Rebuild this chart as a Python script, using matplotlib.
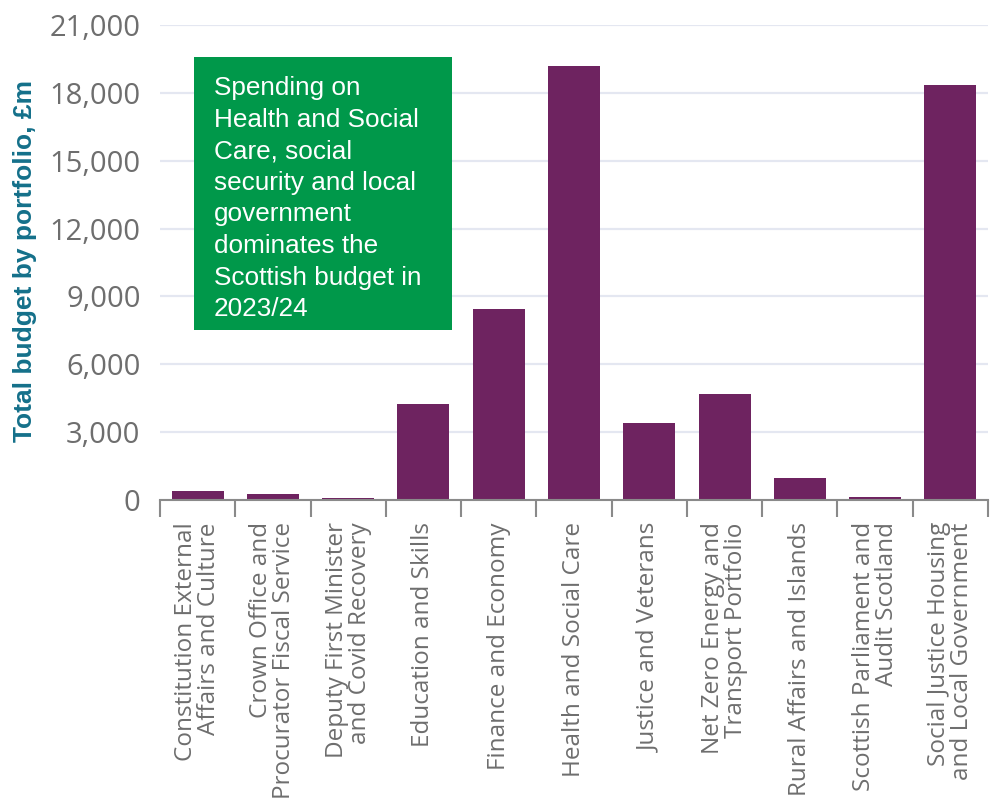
import matplotlib
matplotlib.use("Agg")
import matplotlib.pyplot as plt
from matplotlib.ticker import FuncFormatter, FixedLocator

# Scottish budget 2023/24 by portfolio, £m
portfolios = [
    "Constitution External\nAffairs and Culture",
    "Crown Office and\nProcurator Fiscal Service",
    "Deputy First Minister\nand Covid Recovery",
    "Education and Skills",
    "Finance and Economy",
    "Health and Social Care",
    "Justice and Veterans",
    "Net Zero Energy and\nTransport Portfolio",
    "Rural Affairs and Islands",
    "Scottish Parliament and\nAudit Scotland",
    "Social Justice Housing\nand Local Government",
]
budget_m = [380, 250, 100, 4250, 8440, 19200, 3410, 4670, 975, 140, 18360]

y_ticks = [0, 3000, 6000, 9000, 12000, 15000, 18000, 21000]
y_label = "Total budget by portfolio, £m"
callout = ("Spending on\nHealth and Social\nCare, social\nsecurity and local\n"
           "government\ndominates the\nScottish budget in\n2023/24")

BAR = "#6E2360"
GREEN = "#00984A"
GREY = "#6E6E6E"
GRID = "#E4E7F1"
TEAL = "#14708A"

W, H = 990, 811
fig = plt.figure(figsize=(W / 100, H / 100), dpi=100)
ax = fig.add_axes([160 / W, (H - 500) / H, (988 - 160) / W, (500 - 25) / H])

x = list(range(len(portfolios)))
ax.bar(x, budget_m, width=0.69, color=BAR, zorder=3)

ax.set_xlim(-0.5, len(portfolios) - 0.5)
ax.set_ylim(0, 21000)

ax.yaxis.set_major_locator(FixedLocator(y_ticks))
ax.yaxis.set_major_formatter(FuncFormatter(lambda v, p: f"{int(v):,}"))
ax.grid(axis="y", color=GRID, linewidth=1.6, zorder=0)
ax.tick_params(axis="y", length=0, pad=14, labelsize=21, labelcolor=GREY)
for lab in ax.get_yticklabels():
    lab.set_family("Open Sans")

# category labels at bar centres, tick marks at category boundaries
ax.set_xticks(x)
ax.set_xticklabels(portfolios, rotation=90, ha="center", va="top",
                   multialignment="right", fontsize=17.5, color=GREY,
                   family="Open Sans", linespacing=0.95)
ax.tick_params(axis="x", which="major", length=0, pad=16)
ax.set_xticks([i - 0.5 for i in range(len(portfolios) + 1)], minor=True)
ax.tick_params(axis="x", which="minor", length=12, width=1.5, color="#8A8A8A")

for side in ("left", "right", "top"):
    ax.spines[side].set_visible(False)
ax.spines["bottom"].set_color("#8A8A8A")
ax.spines["bottom"].set_linewidth(1.5)
ax.spines["bottom"].set_zorder(4)

fig.text(25 / W, 1 - 261 / H, y_label, rotation=90, ha="center", va="center",
         fontsize=19, fontweight="bold", color=TEAL, family="Liberation Sans")

# callout box
fig.patches.append(plt.Rectangle((194 / W, 1 - 330 / H), (452 - 194) / W,
                                 (330 - 57) / H, transform=fig.transFigure,
                                 facecolor=GREEN, edgecolor="none", zorder=5))
fig.text(214 / W, 1 - 76 / H, callout, ha="left", va="top", fontsize=18.8,
         color="white", family="Liberation Sans", linespacing=1.40, zorder=6)

fig.savefig("out.png", dpi=100)
